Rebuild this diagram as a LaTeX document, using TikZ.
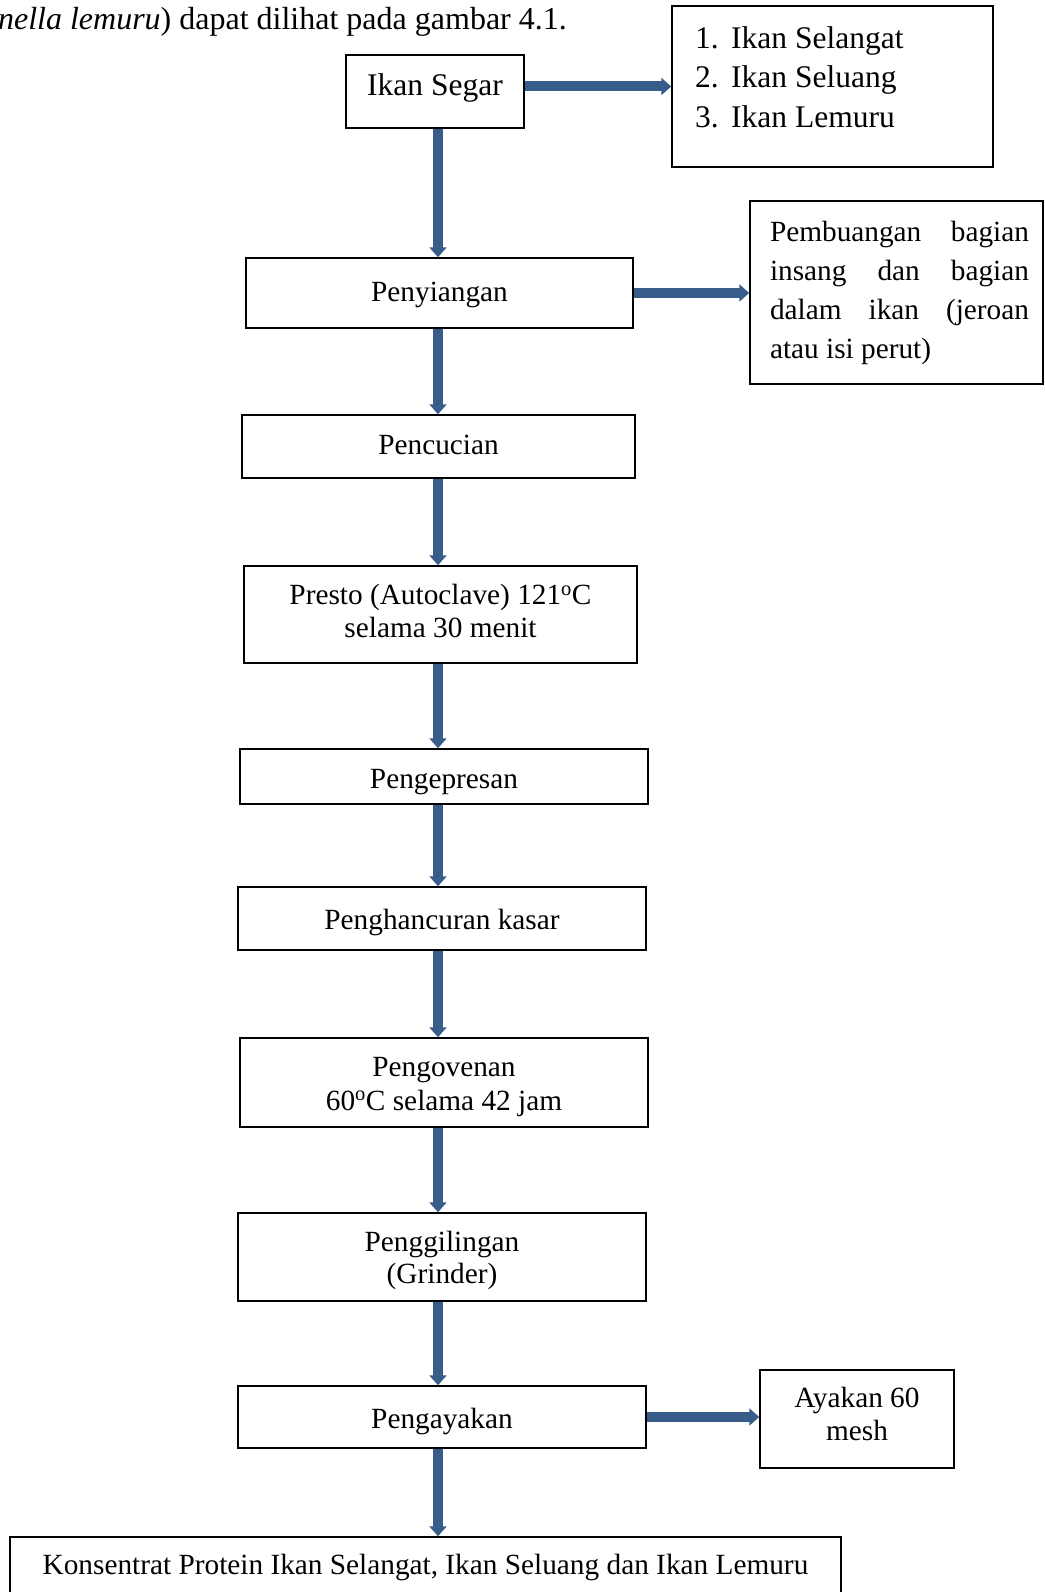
\documentclass[tikz,border=0pt]{standalone}
\usepackage{fontspec}
\setmainfont{Liberation Serif}
\usetikzlibrary{arrows.meta}
\definecolor{flowblue}{RGB}{56,93,138}
\newcommand{\bodyfont}{\fontsize{29.3pt}{33pt}\selectfont}
\newcommand{\topfont}{\fontsize{31.5pt}{39.5pt}\selectfont}
\begin{document}
\begin{tikzpicture}[x=1pt,y=-1pt,
  stepbox/.style={draw, line width=1.5pt, inner sep=0pt, align=center, font=\bodyfont},
  txtdrop/.style={execute at begin node={\rule{0pt}{\dimexpr22pt+#1pt\relax}},
    execute at end node={\rule[\dimexpr#1pt-22pt\relax]{0pt}{\dimexpr22pt-#1pt\relax}}},
  steptxt/.style={font=\bodyfont, anchor=base, inner sep=0pt},
  linetxt/.style={font=\topfont, anchor=base west, inner sep=0pt},
  flow/.style={draw=flowblue, line width=10pt, -{Triangle[width=17pt,length=10pt]}}]
\useasboundingbox (0,0) rectangle (1044,1592);
\coordinate (axis) at (438,0);
\node[font=\fontsize{32pt}{39pt}\selectfont, anchor=base east, inner sep=0pt] (cap) at (567,30) {\textit{nella lemuru}) dapat dilihat pada gambar 4.1.};
% bahan baku
\node[stepbox, txtdrop=4, font=\topfont, minimum width=178pt, minimum height=73pt] (seg) at (435,91.5) {Ikan Segar};
\node[stepbox, minimum width=321pt, minimum height=161pt] (jenis) at (832.5,86.5) {};
\node[linetxt] (jenis1) at (695,48.5) {\makebox[36pt][l]{1.}Ikan Selangat};
\node[linetxt] (jenis2) at (695,88) {\makebox[36pt][l]{2.}Ikan Seluang};
\node[linetxt] (jenis3) at (695,127.5) {\makebox[36pt][l]{3.}Ikan Lemuru};
% tahapan
\node[stepbox, txtdrop=8, minimum width=387pt, minimum height=70pt] (s1) at (439.5,293) {Penyiangan};
\node[stepbox, minimum width=293pt, minimum height=183pt] (buang) at (896.5,292.5) {\hspace*{6pt}\parbox{259pt}{\fontsize{29.3pt}{39pt}\selectfont
  \makebox[259pt][s]{Pembuangan bagian}\\
  \makebox[259pt][s]{insang dan bagian}\\
  \makebox[259pt][s]{dalam ikan (jeroan}\\
  atau isi perut)}};
\node[stepbox, txtdrop=8, minimum width=393pt, minimum height=63pt] (s2) at (438.5,446.5) {Pencucian};
\node[stepbox, minimum width=393pt, minimum height=97pt] (s3) at (440.5,614.5) {};
\node[steptxt] (s3a) at (440.5,604.5) {Presto (Autoclave) 121\textsuperscript{o}C};
\node[steptxt] (s3b) at (440.5,637) {selama 30 menit};
\node[stepbox, txtdrop=12, minimum width=408pt, minimum height=55pt] (s4) at (444,776.5) {Pengepresan};
\node[stepbox, txtdrop=10.5, minimum width=408pt, minimum height=63pt] (s5) at (442,918.5) {Penghancuran kasar};
\node[stepbox, minimum width=408pt, minimum height=89pt] (s6) at (444,1082.5) {};
\node[steptxt] (s6a) at (444,1076) {Pengovenan};
\node[steptxt] (s6b) at (444,1110) {60\textsuperscript{o}C selama 42 jam};
\node[stepbox, minimum width=408pt, minimum height=88pt] (s7) at (442,1257) {};
\node[steptxt] (s7a) at (442,1251) {Penggilingan};
\node[steptxt] (s7b) at (442,1283) {(Grinder)};
\node[stepbox, txtdrop=11, minimum width=408pt, minimum height=62pt] (s8) at (442,1417) {Pengayakan};
\node[stepbox, minimum width=194pt, minimum height=98pt] (mesh) at (857,1419) {};
\node[steptxt] (mesha) at (857,1407) {Ayakan 60};
\node[steptxt] (meshb) at (857,1440) {mesh};
\node[stepbox, txtdrop=8, minimum width=831pt, minimum height=58pt] (s9) at (425.5,1566) {Konsentrat Protein Ikan Selangat, Ikan Seluang dan Ikan Lemuru};
% panah
\draw[flow] (seg.east |- jenis) -- (jenis.west);
\draw[flow] (seg.south -| axis) -- (s1.north -| axis);
\draw[flow] (s1.east) -- (s1.east -| buang.west);
\draw[flow] (s1.south -| axis) -- (s2.north -| axis);
\draw[flow] (s2.south -| axis) -- (s3.north -| axis);
\draw[flow] (s3.south -| axis) -- (s4.north -| axis);
\draw[flow] (s4.south -| axis) -- (s5.north -| axis);
\draw[flow] (s5.south -| axis) -- (s6.north -| axis);
\draw[flow] (s6.south -| axis) -- (s7.north -| axis);
\draw[flow] (s7.south -| axis) -- (s8.north -| axis);
\draw[flow] (s8.east) -- (s8.east -| mesh.west);
\draw[flow] (s8.south -| axis) -- (s9.north -| axis);
\end{tikzpicture}
\end{document}
